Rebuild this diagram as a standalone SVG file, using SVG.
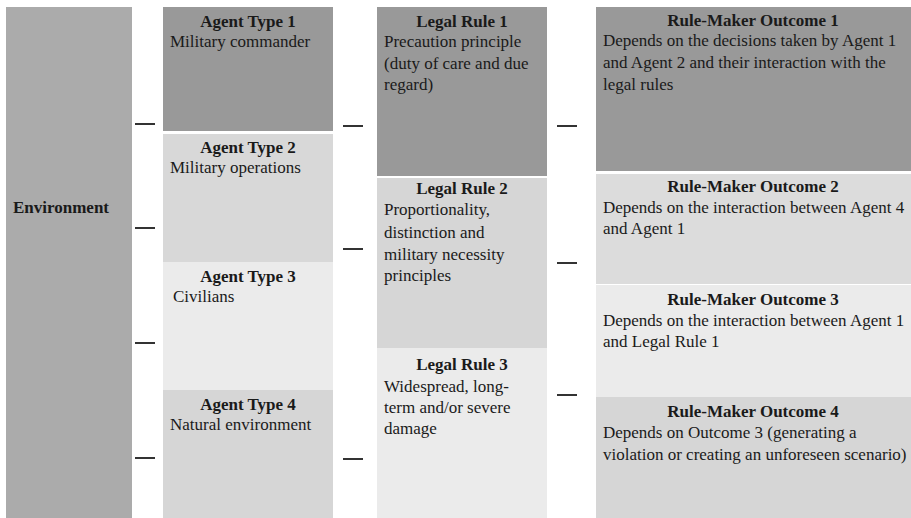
<svg xmlns="http://www.w3.org/2000/svg" width="911" height="518" viewBox="0 0 911 518">
<style>
text{font-family:"Liberation Serif","Times New Roman",serif;font-size:17px;fill:#1a1a1a}
.t{font-weight:bold;text-anchor:middle}
.dash{stroke:#333;stroke-width:2}
.dark{fill:#999999}
.mid{fill:#d8d8d8}
.light{fill:#ebebeb}
</style>
<rect width="911" height="518" fill="#ffffff"/>
<g id="environment">
<rect x="6" y="7" width="126" height="511" fill="#ababab"/>
<text x="13" y="213" style="font-weight:bold">Environment</text>
</g>
<g id="agent1"><rect class="dark" x="163" y="7" width="170" height="124"/>
<text class="t" x="248" y="27">Agent Type 1</text><text x="170" y="47">Military commander</text></g>
<g id="agent2"><rect class="mid" x="163" y="134" width="170" height="128"/>
<text class="t" x="248" y="153">Agent Type 2</text><text x="170" y="173">Military operations</text></g>
<g id="agent3"><rect class="light" x="163" y="262" width="170" height="128"/>
<text class="t" x="248" y="282">Agent Type 3</text><text x="173" y="302">Civilians</text></g>
<g id="agent4"><rect fill="#d6d6d6" x="163" y="390" width="170" height="128"/>
<text class="t" x="248" y="410">Agent Type 4</text><text x="170" y="430">Natural environment</text></g>
<g id="rule1"><rect class="dark" x="377" y="7" width="170" height="169"/>
<text class="t" x="462" y="27">Legal Rule 1</text><text x="384" y="47">Precaution principle</text><text x="384" y="69">(duty of care and due</text><text x="384" y="90">regard)</text></g>
<g id="rule2"><rect fill="#d6d6d6" x="377" y="178" width="170" height="170"/>
<text class="t" x="462" y="194">Legal Rule 2</text><text x="384" y="215">Proportionality,</text><text x="384" y="238">distinction and</text><text x="384" y="260">military necessity</text><text x="384" y="281">principles</text></g>
<g id="rule3"><rect class="light" x="377" y="348" width="170" height="170"/>
<text class="t" x="462" y="370">Legal Rule 3</text><text x="384" y="392">Widespread, long-</text><text x="384" y="413">term and/or severe</text><text x="384" y="434">damage</text></g>
<g id="outcome1"><rect class="dark" x="596" y="7" width="315" height="164"/>
<text class="t" x="753" y="26">Rule-Maker Outcome 1</text><text x="603" y="46">Depends on the decisions taken by Agent 1</text><text x="603" y="68">and Agent 2 and their interaction with the</text><text x="603" y="90">legal rules</text></g>
<g id="outcome2"><rect fill="#dcdcdc" x="596" y="174" width="315" height="110"/>
<text class="t" x="753" y="192">Rule-Maker Outcome 2</text><text x="603" y="213">Depends on the interaction between Agent 4</text><text x="603" y="234">and Agent 1</text></g>
<g id="outcome3"><rect class="light" x="596" y="285" width="315" height="112"/>
<text class="t" x="753" y="305">Rule-Maker Outcome 3</text><text x="603" y="326">Depends on the interaction between Agent 1</text><text x="603" y="347">and Legal Rule 1</text></g>
<g id="outcome4"><rect fill="#d6d6d6" x="596" y="397" width="315" height="121"/>
<text class="t" x="753" y="417">Rule-Maker Outcome 4</text><text x="603" y="438">Depends on Outcome 3 (generating a</text><text x="603" y="460">violation or creating an unforeseen scenario)</text></g>
<g id="connectors">
<line class="dash" x1="135" y1="124" x2="155" y2="124"/>
<line class="dash" x1="135" y1="228" x2="155" y2="228"/>
<line class="dash" x1="135" y1="343" x2="155" y2="343"/>
<line class="dash" x1="135" y1="458" x2="155" y2="458"/>
<line class="dash" x1="343" y1="126" x2="363" y2="126"/>
<line class="dash" x1="343" y1="249" x2="363" y2="249"/>
<line class="dash" x1="343" y1="459" x2="363" y2="459"/>
<line class="dash" x1="557" y1="126" x2="577" y2="126"/>
<line class="dash" x1="557" y1="263" x2="577" y2="263"/>
<line class="dash" x1="557" y1="395" x2="577" y2="395"/>
</g>
</svg>
